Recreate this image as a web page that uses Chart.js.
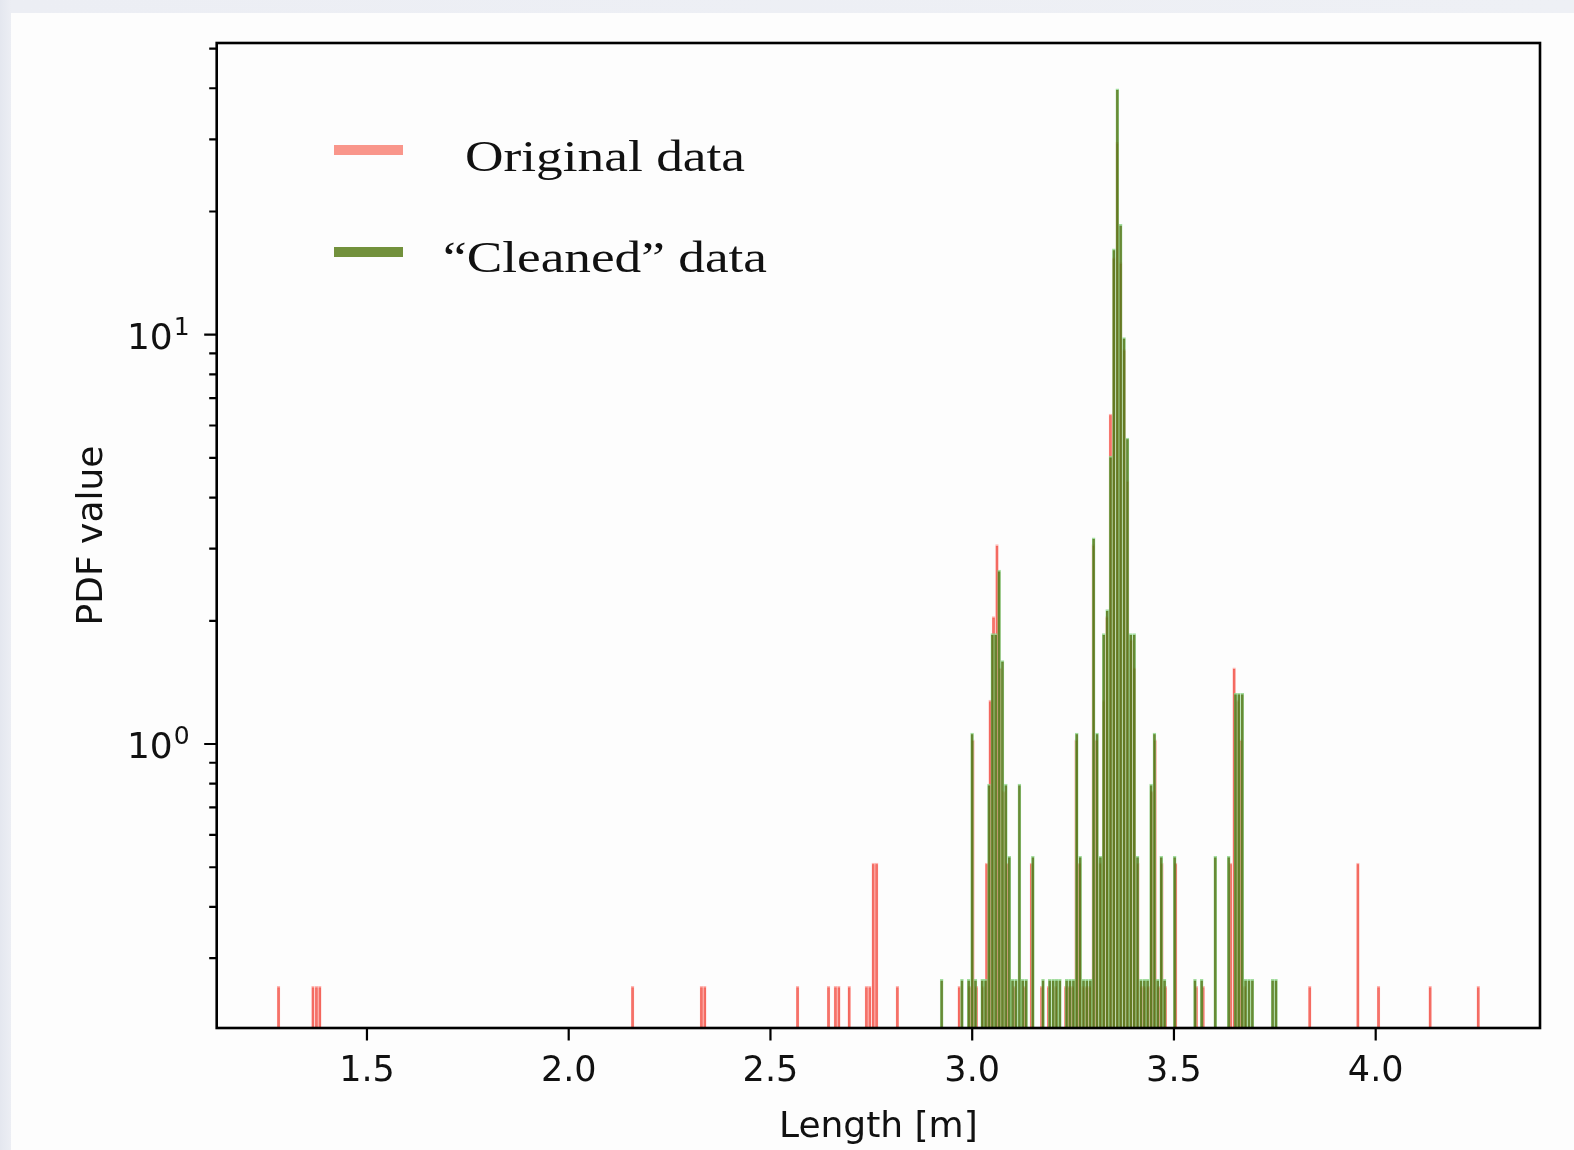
<!DOCTYPE html>
<html lang="en">
<head>
<meta charset="utf-8">
<title>Length PDF</title>
<script src="https://cdn.jsdelivr.net/npm/chart.js@4.4.1/dist/chart.umd.min.js"></script>
<style>
  html, body { margin: 0; padding: 0; }
  body {
    width: 1574px;
    height: 1150px;
    overflow: hidden;
    background: linear-gradient(90deg, #e4e7ef 0px, #eceef4 11px, #eef0f5 100%);
  }
  #panel {
    position: absolute;
    left: 11px;
    top: 13px;
    width: 1563px;
    height: 1137px;
    background: #fdfdfd;
  }
</style>
</head>
<body>
<div id="panel">
  <canvas id="pdfChart" width="1563" height="1137"></canvas>
</div>
<script>
// non-empty histogram bins: bin centre [m] and PDF value

const originalLengths = [
    1.2810, 1.3662, 1.3747, 1.3832, 2.1584, 2.3288, 2.3373, 2.5673,
    2.6440, 2.6610, 2.6695, 2.6951, 2.7377, 2.7462, 2.7547, 2.7632,
    2.8144, 2.9677, 2.9933, 3.0018, 3.0103, 3.0274, 3.0359, 3.0444,
    3.0529, 3.0614, 3.0700, 3.0785, 3.0870, 3.1040, 3.1296, 3.1466,
    3.1722, 3.1892, 3.2063, 3.2318, 3.2403, 3.2488, 3.2574, 3.2659,
    3.2744, 3.2829, 3.2914, 3.2999, 3.3084, 3.3170, 3.3255, 3.3340,
    3.3425, 3.3510, 3.3595, 3.3680, 3.3766, 3.3851, 3.3936, 3.4021,
    3.4106, 3.4191, 3.4276, 3.4362, 3.4447, 3.4532, 3.4617, 3.4702,
    3.4787, 3.5043, 3.5554, 3.5724, 3.6406, 3.6491, 3.6576, 3.6662,
    3.6747, 3.8366, 3.9559, 4.0071, 4.1349, 4.2541
];
const originalPdf = [
    0.256, 0.256, 0.256, 0.256, 0.256, 0.256, 0.256, 0.256,
    0.256, 0.256, 0.256, 0.256, 0.256, 0.256, 0.512, 0.512,
    0.256, 0.256, 0.256, 1.024, 0.256, 0.256, 0.512, 1.28,
    2.048, 3.07, 1.536, 0.768, 0.512, 0.256, 0.256, 0.512,
    0.256, 0.256, 0.256, 0.256, 0.256, 0.256, 1.024, 0.512,
    0.256, 0.256, 0.256, 3.07, 1.024, 0.512, 1.28, 2.048,
    6.4, 15.4, 29.5, 15.0, 9.2, 4.4, 1.8, 1.536,
    0.512, 0.256, 0.256, 0.256, 0.768, 1.024, 0.256, 0.512,
    0.256, 0.512, 0.256, 0.256, 0.512, 1.536, 1.28, 1.024,
    0.256, 0.256, 0.512, 0.256, 0.256, 0.256
];

const cleanedLengths = [
    2.9244, 2.9746, 2.9914, 2.9997, 3.0081, 3.0248, 3.0332, 3.0416,
    3.0499, 3.0583, 3.0667, 3.0750, 3.0834, 3.0918, 3.1001, 3.1085,
    3.1169, 3.1253, 3.1336, 3.1504, 3.1755, 3.1922, 3.2006, 3.2089,
    3.2173, 3.2341, 3.2424, 3.2508, 3.2592, 3.2675, 3.2759, 3.2843,
    3.2926, 3.3010, 3.3094, 3.3177, 3.3261, 3.3345, 3.3429, 3.3512,
    3.3596, 3.3680, 3.3763, 3.3847, 3.3931, 3.4014, 3.4098, 3.4182,
    3.4265, 3.4349, 3.4433, 3.4516, 3.4600, 3.4684, 3.4768, 3.5019,
    3.5521, 3.5688, 3.6023, 3.6358, 3.6525, 3.6609, 3.6692, 3.6776,
    3.6860, 3.6943, 3.7446, 3.7529
];
const cleanedPdf = [
    0.266, 0.266, 0.266, 1.064, 0.266, 0.266, 0.266, 0.798,
    1.86, 1.86, 2.66, 1.60, 0.798, 0.532, 0.266, 0.266,
    0.798, 0.266, 0.266, 0.532, 0.266, 0.266, 0.266, 0.266,
    0.266, 0.266, 0.266, 0.266, 1.064, 0.532, 0.266, 0.266,
    0.266, 3.19, 1.064, 0.532, 1.86, 2.13, 5.05, 16.2,
    39.9, 18.6, 9.84, 5.59, 1.86, 1.86, 0.532, 0.266,
    0.266, 0.266, 0.798, 1.064, 0.266, 0.532, 0.266, 0.532,
    0.266, 0.266, 0.532, 0.532, 1.33, 1.33, 1.33, 0.266,
    0.266, 0.266, 0.266, 0.266
];

const xTicks = [1.5, 2.0, 2.5, 3.0, 3.5, 4.0];
const yTicks = [0.3, 0.4, 0.5, 0.6, 0.7, 0.8, 0.9,
                1, 2, 3, 4, 5, 6, 7, 8, 9,
                10, 20, 30, 40, 50];
// decades that get a 10^n label
const yMajorExponents = { 1: "0", 10: "1" };

const seriesNames = ["Original data", "\u201cCleaned\u201d data"];
const lengthRange = [1.1276, 4.4072];
const pdfRange = [0.2024, 51.6];

function toPoints(xs, ys) {
    return xs.map((x, i) => ({ x: x, y: ys[i] }));
}

// serif label squeezed/stretched to a fixed width, centred on cx
function fittedText(ctx, text, cx, baseline, width) {
    const w = ctx.measureText(text).width;
    ctx.save();
    ctx.translate(cx, baseline);
    ctx.scale(width / w, 1);
    ctx.fillText(text, 0, 0);
    ctx.restore();
}

// frame, tick marks, log labels, axis titles and the legend
const frameAndLegend = {
    id: "frameAndLegend",
    afterDraw(chart) {
        const ctx = chart.ctx;
        const a = chart.chartArea;
        const xs = chart.scales.x;
        const ys = chart.scales.y;

        ctx.save();
        ctx.strokeStyle = "#000";
        ctx.lineWidth = 2.2;
        ctx.beginPath();
        xs.ticks.forEach(t => {
            const px = xs.getPixelForValue(t.value);
            ctx.moveTo(px, a.bottom);
            ctx.lineTo(px, a.bottom + 12.5);
        });
        ys.ticks.forEach(t => {
            const py = ys.getPixelForValue(t.value);
            const len = yMajorExponents[t.value] ? 12.5 : 7.5;
            ctx.moveTo(a.left - len, py);
            ctx.lineTo(a.left, py);
        });
        ctx.stroke();

        ctx.lineWidth = 2.6;
        ctx.strokeRect(a.left, a.top, a.right - a.left, a.bottom - a.top);

        // y labels as 10 with a raised exponent
        ctx.fillStyle = "#111";
        ctx.textBaseline = "alphabetic";
        ys.ticks.forEach(t => {
            const exp = yMajorExponents[t.value];
            if (!exp) return;
            const py = ys.getPixelForValue(t.value);
            ctx.font = "36px 'DejaVu Sans'";
            ctx.textAlign = "right";
            ctx.fillText("10", a.left - 44, py + 14);
            ctx.font = "25px 'DejaVu Sans'";
            ctx.textAlign = "left";
            ctx.fillText(exp, a.left - 43, py);
        });

        // axis titles
        ctx.font = "36px 'DejaVu Sans'";
        ctx.textAlign = "center";
        ctx.fillText("Length [m]", (a.left + a.right) / 2, a.bottom + 109);
        ctx.save();
        ctx.translate(a.left - 114.7, (a.top + a.bottom) / 2);
        ctx.rotate(-Math.PI / 2);
        ctx.fillText("PDF value", 0, 0);
        ctx.restore();

        // legend
        const swatchX = a.left + 117.3;
        ctx.fillStyle = "#f9968b";
        ctx.fillRect(swatchX, a.top + 102, 69, 10);
        ctx.fillStyle = "#72913c";
        ctx.fillRect(swatchX, a.top + 204, 69, 10);

        ctx.fillStyle = "#111";
        ctx.font = "44px 'Liberation Serif'";
        fittedText(ctx, seriesNames[0], a.left + 388.3, a.top + 127.7, 280);
        fittedText(ctx, seriesNames[1], a.left + 388.3, a.top + 228.7, 324);
        ctx.restore();
    }
};

const tickFont = { family: "'DejaVu Sans'", size: 35 };

new Chart(document.getElementById("pdfChart"), {
    type: "bar",
    data: {
        datasets: [
            {
                label: seriesNames[1],
                data: toPoints(cleanedLengths, cleanedPdf),
                backgroundColor: "rgba(82, 118, 22, 0.85)",
                borderColor: "rgba(140, 212, 135, 0.8)",
                borderWidth: { top: 1.6, left: 0.6, right: 0.6, bottom: 0 },
                borderSkipped: false,
                barThickness: 2.9,
                grouped: false,
                order: 0
            },
            {
                label: seriesNames[0],
                data: toPoints(originalLengths, originalPdf),
                backgroundColor: "rgba(240, 62, 50, 0.72)",
                borderColor: "rgba(255, 165, 160, 0.8)",
                borderWidth: { top: 1.6, left: 0.5, right: 0.5, bottom: 0 },
                borderSkipped: false,
                barThickness: 2.7,
                grouped: false,
                order: 1
            }
        ]
    },
    options: {
        responsive: false,
        animation: false,
        layout: {
            padding: { left: 0, top: 30, right: 34, bottom: 0 }
        },
        plugins: {
            legend: { display: false },
            tooltip: { enabled: false }
        },
        scales: {
            x: {
                type: "linear",
                min: lengthRange[0],
                max: lengthRange[1],
                offset: false,
                grid: { display: false, drawTicks: false, offset: false },
                border: { display: false },
                afterBuildTicks: s => {
                    s.ticks = xTicks.map(v => ({ value: v }));
                },
                afterFit: s => {
                    s.height = 122;
                    s.paddingLeft = 0;
                    s.paddingRight = 0;
                },
                ticks: {
                    font: tickFont,
                    color: "#111",
                    padding: 23,
                    maxRotation: 0,
                    autoSkip: false,
                    callback: v => v.toFixed(1)
                }
            },
            y: {
                type: "logarithmic",
                min: pdfRange[0],
                max: pdfRange[1],
                grid: { display: false, drawTicks: false },
                border: { display: false },
                afterBuildTicks: s => {
                    s.ticks = yTicks.map(v => ({ value: v }));
                },
                afterFit: s => {
                    s.width = 205.7;
                    s.paddingTop = 0;
                    s.paddingBottom = 0;
                },
                ticks: { display: false }
            }
        }
    },
    plugins: [frameAndLegend]
});
</script>
</body>
</html>
